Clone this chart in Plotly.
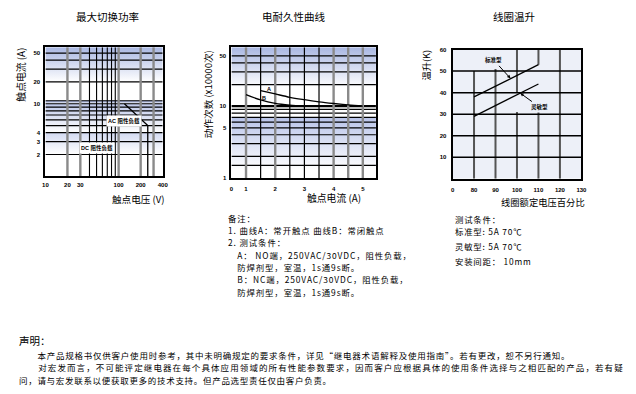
import math
import plotly.graph_objects as go

W, H = 636, 394

# ---------------- Chart 1: 最大切换功率 ----------------
c1_title = "最大切换功率"
c1_xtitle = "触点电压 (V)"
c1_ytitle = "触点电流 (A)"
c1_xticks = [10, 20, 30, 100, 200, 400]
c1_yticks = [2, 3, 4, 10, 20, 50]
c1_xrange = [10, 400]
c1_yrange = [1, 60]
c1_vgrid_major = [20, 30, 100, 200, 300]
c1_vgrid_minor = [40, 50, 60, 70, 80, 90]
c1_hgrid = [2, 3, 4, 5, 6, 7, 8, 9, 10, 11, 20, 30, 40, 50]
c1_bands = [(20, 60, "#a9b7e2"), (10, 11, "#8d9dcf"), (4, 10, "#bfc9ea"), (2, 4, "#d3daf1")]
ac_volt = [120, 250, 250]
ac_amp = [10, 5, 1]
ac_label = "AC 阻性负载"
ac_label_pos = (117, 5.75)
dc_label = "DC 阻性负载"
dc_label_pos = (51, 2.47)

# ---------------- Chart 2: 电耐久性曲线 ----------------
c2_title = "电耐久性曲线"
c2_xtitle = "触点电流 (A)"
c2_ytitle = "动作次数 (x10000次)"
c2_xtickvals = [0.5, 1, 2, 3, 4, 5]
c2_xticktext = ["0", "1", "2", "3", "4", "5"]
c2_yticks = [1, 5, 10, 50]
c2_xrange = [0.5, 5.45]
c2_yrange = [1, 66]
c2_vgrid_major = [1, 2, 4, 4.5, 5]
c2_vgrid_minor = [1.5, 2.5, 3, 3.5]
c2_hgrid = [1.5, 2, 3, 4, 5, 6, 7, 8, 9, 20, 30, 40, 50]
c2_hgrid_bold = [10]
c2_bands = [(18, 66, "#a9b7e2"), (1.3, 7, "#b9c4e9")]
curveA_x = [1.5, 2, 2.5, 3, 3.5, 4, 4.5, 5]
curveA_y = [16.5, 14.8, 13.3, 12.3, 11.5, 10.9, 10.4, 10.0]
curveB_x = [1, 1.5, 2, 2.5, 3]
curveB_y = [14.5, 12.2, 10.9, 10.3, 10.0]
labelA_pos = (1.79, 17.5)
labelB_pos = (1.62, 13.2)

# ---------------- Chart 3: 线圈温升 ----------------
c3_title = "线圈温升"
c3_xtitle = "线圈额定电压百分比"
c3_ytitle = "温升(K)"
c3_xtickvals = [70, 80, 90, 100, 110, 120, 130]
c3_xticktext = ["0", "80", "90", "100", "110", "120", "130"]
c3_yticks = [10, 20, 30, 40, 50, 60]
c3_xrange = [70, 130]
c3_yrange = [0, 60]
c3_hgrid = [10, 20, 30, 40, 50]
c3_vgrid = [(80, 0, 50), (90, 0, 51), (100, 0, 31), (100, 40, 60),
            (110, 0, 31), (110, 53, 60), (120, 0, 60)]
std_x = [80, 110]
std_y = [38, 53]
sens_x = [80, 110]
sens_y = [29, 44]
std_label = "标准型"
sens_label = "灵敏型"

# ---------------- Text blocks ----------------
IND = "\u3000"
notes2 = ["备注：", "1. 曲线A：常开触点 曲线B：常闭触点", "2. 测试条件：",
          IND + "A： NO端，250VAC/30VDC，阻性负载，", IND + "防焊剂型，室温，1s通9s断。",
          IND + "B：NC端，250VAC/30VDC，阻性负载，", IND + "防焊剂型，室温，1s通9s断。"]
notes3 = ["测试条件：", "标准型: 5A 70℃", "灵敏型: 5A 70℃", "安装间距： 10mm"]
decl_title = "声明："
decl_lines = [IND + IND + "本产品规格书仅供客户使用时参考，其中未明确规定的要求条件，详见“继电器术语解释及使用指南”。若有更改，恕不另行通知。",
              IND + IND + "对宏发而言，不可能评定继电器在每个具体应用领域的所有性能参数要求，因而客户应根据具体的使用条件选择与之相匹配的产品，若有疑",
              "问，请与宏发联系以便获取更多的技术支持。但产品选型责任仅由客户负责。"]

CJK = "Noto Sans CJK SC"
LAT = "Liberation Sans, Noto Sans CJK SC"


def dx(a, b):
    return [a / W, b / W]


def dy(top, bottom):
    return [1 - bottom / H, 1 - top / H]


def px(x):
    return x / W


def py(y):
    return 1 - y / H


fig = go.Figure()


def band_traces(bands, xr, xa, ya):
    for lo, hi, col in bands:
        fig.add_trace(go.Scatter(
            x=[xr[0], xr[1], xr[1], xr[0], xr[0]], y=[lo, lo, hi, hi, lo],
            mode="lines", line=dict(width=0), fill="toself",
            fillcolor=col,
            fillgradient=dict(type="vertical", colorscale=[[0, "white"], [1, col]]),
            xaxis=xa, yaxis=ya, hoverinfo="skip", showlegend=False))


def vlines(vals, y0, y1, color, width, xa, ya):
    xs, ys = [], []
    for v in vals:
        xs += [v, v, None]
        ys += [y0, y1, None]
    fig.add_trace(go.Scatter(x=xs, y=ys, mode="lines", line=dict(color=color, width=width),
                             xaxis=xa, yaxis=ya, hoverinfo="skip", showlegend=False))


def hlines(vals, x0, x1, color, width, xa, ya):
    xs, ys = [], []
    for v in vals:
        xs += [x0, x1, None]
        ys += [v, v, None]
    fig.add_trace(go.Scatter(x=xs, y=ys, mode="lines", line=dict(color=color, width=width),
                             xaxis=xa, yaxis=ya, hoverinfo="skip", showlegend=False))


# ---- chart 1 ----
band_traces(c1_bands, c1_xrange, "x", "y")
hlines(c1_hgrid, c1_xrange[0], c1_xrange[1], "black", 1.2, "x", "y")
vlines(c1_vgrid_major, c1_yrange[0], c1_yrange[1], "#8a8a8a", 2.4, "x", "y")
vlines(c1_vgrid_minor, c1_yrange[0], c1_yrange[1], "black", 1.1, "x", "y")
fig.add_trace(go.Scatter(x=ac_volt, y=ac_amp, mode="lines", line=dict(color="black", width=1.3),
                         xaxis="x", yaxis="y", hoverinfo="skip", showlegend=False))

# ---- chart 2 ----
band_traces(c2_bands, c2_xrange, "x2", "y2")
hlines(c2_hgrid, c2_xrange[0], c2_xrange[1], "black", 1.2, "x2", "y2")
hlines(c2_hgrid_bold, c2_xrange[0], c2_xrange[1], "black", 2.2, "x2", "y2")
vlines(c2_vgrid_major, c2_yrange[0], c2_yrange[1], "#8a8a8a", 2.4, "x2", "y2")
vlines(c2_vgrid_minor, c2_yrange[0], c2_yrange[1], "black", 1.2, "x2", "y2")
fig.add_trace(go.Scatter(x=curveA_x, y=curveA_y, mode="lines", line=dict(color="black", width=1.3, shape="spline"),
                         xaxis="x2", yaxis="y2", hoverinfo="skip", showlegend=False))
fig.add_trace(go.Scatter(x=curveB_x, y=curveB_y, mode="lines", line=dict(color="black", width=1.3, shape="spline"),
                         xaxis="x2", yaxis="y2", hoverinfo="skip", showlegend=False))

# ---- chart 3 ----
fig.add_trace(go.Scatter(x=[c3_xrange[0], c3_xrange[1], c3_xrange[1], c3_xrange[0], c3_xrange[0]],
                         y=[c3_yrange[0], c3_yrange[0], c3_yrange[1], c3_yrange[1], c3_yrange[0]],
                         mode="lines", line=dict(width=0), fill="toself", fillcolor="#edf0f8",
                         xaxis="x3", yaxis="y3", hoverinfo="skip", showlegend=False))
for v, a, b in c3_vgrid:
    vlines([v], a, b, "#555555", 2.0, "x3", "y3")
hlines(c3_hgrid, c3_xrange[0], c3_xrange[1], "black", 1.5, "x3", "y3")
fig.add_trace(go.Scatter(x=std_x, y=std_y, mode="lines", line=dict(color="black", width=1.3),
                         xaxis="x3", yaxis="y3", hoverinfo="skip", showlegend=False))
fig.add_trace(go.Scatter(x=sens_x, y=sens_y, mode="lines", line=dict(color="black", width=1.3),
                         xaxis="x3", yaxis="y3", hoverinfo="skip", showlegend=False))

tickfont = dict(family="Liberation Sans", size=6, color="black", weight="bold")
axis_common = dict(showgrid=False, zeroline=False, showline=True, linecolor="black",
                   linewidth=2, mirror=True, ticks="", tickfont=tickfont, fixedrange=True)

fig.update_layout(
    width=W, height=H, margin=dict(l=0, r=0, t=0, b=0),
    paper_bgcolor="white", plot_bgcolor="white", showlegend=False,
    xaxis=dict(axis_common, type="log", domain=dx(43, 162),
               range=[math.log10(c1_xrange[0]), math.log10(c1_xrange[1])],
               tickmode="array", tickvals=c1_xticks, ticktext=[str(v) for v in c1_xticks],
               anchor="y", ticklabelstandoff=1),
    yaxis=dict(axis_common, type="log", domain=dy(45, 176),
               range=[math.log10(c1_yrange[0]), math.log10(c1_yrange[1])],
               tickmode="array", tickvals=c1_yticks, ticktext=[str(v) for v in c1_yticks],
               anchor="x", ticklabelstandoff=2),
    xaxis2=dict(axis_common, domain=dx(231.7, 378.3), range=c2_xrange,
                tickmode="array", tickvals=c2_xtickvals, ticktext=c2_xticktext,
                anchor="y2", ticklabelstandoff=4),
    yaxis2=dict(axis_common, type="log", domain=dy(45, 177.7),
                range=[math.log10(c2_yrange[0]), math.log10(c2_yrange[1])],
                tickmode="array", tickvals=c2_yticks, ticktext=[str(v) for v in c2_yticks],
                anchor="x2", ticklabelstandoff=2),
    xaxis3=dict(axis_common, domain=dx(456, 586.7), range=c3_xrange,
                tickmode="array", tickvals=c3_xtickvals, ticktext=c3_xticktext,
                anchor="y3", ticklabelstandoff=4),
    yaxis3=dict(axis_common, domain=dy(47.3, 178.5), range=c3_yrange,
                tickmode="array", tickvals=c3_yticks, ticktext=[str(v) for v in c3_yticks],
                anchor="x3", ticklabelstandoff=3),
)

ann = []


def text(x, y, s, size, xanchor="center", angle=0, family=CJK, weight="normal", ls=None):
    if ls:
        s = '<span style="letter-spacing:%.2fpx">%s</span>' % (ls, s)
    ann.append(dict(x=px(x), y=py(y), xref="paper", yref="paper", text=s, showarrow=False,
                    xanchor=xanchor, yanchor="middle", textangle=angle, align="left",
                    font=dict(family=family, size=size, color="black", weight=weight)))


# titles
text(106, 14, c1_title, 10.5)
text(295, 14, c2_title, 10.5)
text(518, 14, c3_title, 10.5)
# axis titles
text(18, 73, c1_ytitle, 9.8, angle=-90)
text(137, 199, c1_xtitle, 9.6)
text(208, 92.5, c2_ytitle, 9.6, angle=-90)
text(335.5, 198, c2_xtitle, 9.8)
text(429, 62.5, c3_ytitle, 9.2, angle=-90)
text(548, 202.5, c3_xtitle, 9.3)

# chart inner labels
labfont = dict(family=LAT, size=5.5, color="black", weight="bold")
ann.append(dict(x=math.log10(ac_label_pos[0]), y=math.log10(ac_label_pos[1]), xref="x", yref="y",
                text=ac_label, showarrow=False, bgcolor="white", borderpad=1, font=labfont))
ann.append(dict(x=math.log10(dc_label_pos[0]), y=math.log10(dc_label_pos[1]), xref="x", yref="y",
                text=dc_label, showarrow=False, bgcolor="white", borderpad=1, font=labfont))
ann.append(dict(x=labelA_pos[0], y=math.log10(labelA_pos[1]), xref="x2", yref="y2",
                text="A", showarrow=False, font=labfont))
ann.append(dict(x=labelB_pos[0], y=math.log10(labelB_pos[1]), xref="x2", yref="y2",
                text="B", showarrow=False, font=labfont))
ann.append(dict(x=97, y=46.6, xref="x3", yref="y3", ax=89.3, ay=55, axref="x3", ayref="y3",
                text=std_label, showarrow=True, arrowhead=2, arrowsize=0.7, arrowwidth=1,
                arrowcolor="black", bgcolor="#edf0f8", font=labfont))
ann.append(dict(x=101.5, y=39.8, xref="x3", yref="y3", ax=110.5, ay=33.3, axref="x3", ayref="y3",
                text=sens_label, showarrow=True, arrowhead=2, arrowsize=0.7, arrowwidth=1,
                arrowcolor="black", bgcolor="#edf0f8", font=labfont))

# notes under chart 2
n2_y = [218, 230.5, 243, 255.5, 268, 280.5, 293]
for s, y in zip(notes2, n2_y):
    text(226.7, y, s, 8.4, xanchor="left", ls=0.9)

# notes under chart 3
n3_y = [219.5, 232, 246.5, 261.7]
for s, y in zip(notes3, n3_y):
    text(456.7, y, s, 8.4, xanchor="left", ls=0.8)

# declaration
text(14, 342.5, decl_title, 10.5, xanchor="left")
decl_y = [357, 369.7, 382.4]
decl_ls = [0.76, 1.1, 0.7]
decl_x = [14.5, 14.5, 14.5]
for s, x, y, l in zip(decl_lines, decl_x, decl_y, decl_ls):
    text(x, y, s, 8.5, xanchor="left", ls=l)

fig.update_layout(annotations=ann)
fig.write_html("out.html")
